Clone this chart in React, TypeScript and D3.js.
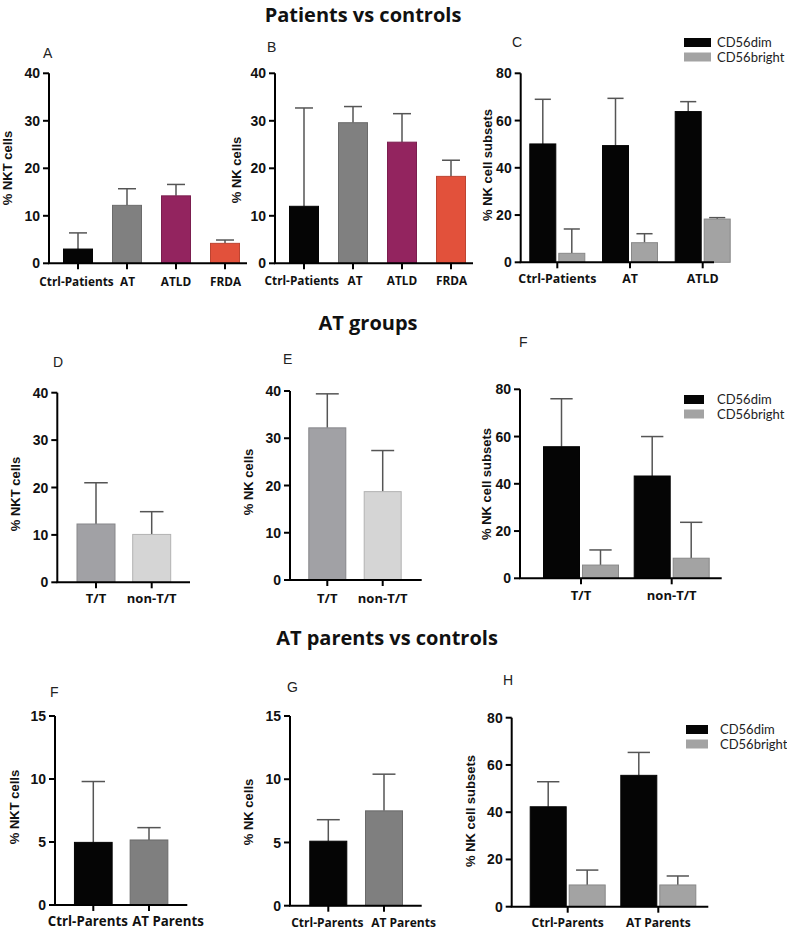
import React, { useEffect } from "react";
import * as d3 from "d3";

// ---------- DATA ----------
const catsPatients = ["Ctrl-Patients", "AT", "ATLD", "FRDA"];
const nktPatients = [3.0, 12.2, 14.2, 4.2];
const nktPatientsErr = [6.4, 15.7, 16.6, 4.9];
const nkPatients = [12.0, 29.6, 25.5, 18.3];
const nkPatientsErr = [32.7, 33.0, 31.5, 21.7];
const colorsPatients = ["#050505", "#808080", "#93245f", "#e2513b"];

const catsSubsetPatients = ["Ctrl-Patients", "AT", "ATLD"];
const dimPatients = [50.1, 49.4, 63.8];
const dimPatientsErr = [69.0, 69.4, 68.0];
const brightPatients = [3.8, 8.3, 18.3];
const brightPatientsErr = [14.1, 12.1, 18.9];

const catsAT = ["T/T", "non-T/T"];
const nktAT = [12.3, 10.1];
const nktATErr = [21.0, 14.9];
const nkAT = [32.2, 18.7];
const nkATErr = [39.4, 27.4];
const colorsAT = ["#a1a1a5", "#d5d5d5"];
const dimAT = [55.7, 43.3];
const dimATErr = [76.0, 60.0];
const brightAT = [5.6, 8.5];
const brightATErr = [12.0, 23.7];

const catsParents = ["Ctrl-Parents", "AT Parents"];
const nktParents = [4.97, 5.16];
const nktParentsErr = [9.8, 6.14];
const nkParents = [5.1, 7.5];
const nkParentsErr = [6.8, 10.4];
const colorsParents = ["#050505", "#7f7f7f"];
const dimParents = [42.3, 55.6];
const dimParentsErr = [52.9, 65.3];
const brightParents = [9.2, 9.2];
const brightParentsErr = [15.5, 13.0];

const subsetNames = ["CD56dim", "CD56bright"];
const subsetColors = ["#050505", "#a3a3a3"];

const titles = ["Patients vs controls", "AT groups", "AT parents vs controls"];

// ---------- STYLE ----------
const AXIS_FONT = "'Liberation Sans', Arial, sans-serif";
const CAT_FONT = "'Open Sans', Lato, sans-serif";
const LEG_FONT = "Lato, 'Open Sans', sans-serif";
const ERR_COLOR = "#555";

function darker(c: string) {
  return d3.color(c)!.darker(0.5).formatHex();
}

type Layout = {
  axisX: number; yTop: number; y0: number; xEnd: number;
  c0: number; c1: number; barW: number; max: number; step: number;
  letter: string; lx: number; ly: number;
  ylabel: string; ylx: number; yly: number; xlabY: number;
  xFont: number; xDx?: number[];
};

function Axes({ L, cats, x }: { L: Layout; cats: string[]; x: d3.ScalePoint<string> }) {
  const y = d3.scaleLinear().domain([0, L.max]).range([L.y0, L.yTop]);
  const ticks = d3.range(0, L.max + 0.001, L.step);
  return (
    <g>
      <line x1={L.axisX} x2={L.axisX} y1={L.yTop} y2={L.y0} stroke="#000" strokeWidth={2} />
      <line x1={L.axisX - 1} x2={L.xEnd} y1={L.y0} y2={L.y0} stroke="#000" strokeWidth={2} />
      {ticks.map((t) => (
        <g key={t}>
          <line x1={L.axisX - 6} x2={L.axisX} y1={y(t)} y2={y(t)} stroke="#000" strokeWidth={2} />
          <text x={L.axisX - 9} y={y(t)} dy="0.36em" textAnchor="end" fontFamily={AXIS_FONT}
            fontWeight="bold" fontSize={14} fill="#111">{t}</text>
        </g>
      ))}
      {cats.map((c, i) => (
        <g key={c}>
          <line x1={x(c)} x2={x(c)} y1={L.y0} y2={L.y0 + 6} stroke="#000" strokeWidth={2} />
          <text x={x(c)! + (L.xDx ? L.xDx[i] : 0)} y={L.xlabY} textAnchor="middle" fontFamily={CAT_FONT}
            fontWeight="bold" fontSize={L.xFont} fill="#111">{c}</text>
        </g>
      ))}
      <text x={L.lx} y={L.ly} fontFamily={AXIS_FONT} fontSize={14} fill="#222">{L.letter}</text>
      <text transform={`translate(${L.ylx},${L.yly}) rotate(-90)`} dy="0.35em" textAnchor="middle"
        fontFamily={AXIS_FONT} fontWeight="bold" fontSize={13} fill="#111">{L.ylabel}</text>
    </g>
  );
}

function ErrBar({ cx, y1, y2, w }: { cx: number; y1: number; y2: number; w: number }) {
  return (
    <g stroke={ERR_COLOR} strokeWidth={1.5}>
      <line x1={cx} x2={cx} y1={y1} y2={y2} />
      <line x1={cx - w / 2} x2={cx + w / 2} y1={y2} y2={y2} />
    </g>
  );
}

function SimplePanel({ L, cats, vals, errs, colors }:
  { L: Layout; cats: string[]; vals: number[]; errs: number[]; colors: string[] }) {
  const x = d3.scalePoint<string>().domain(cats).range([L.c0, L.c1]);
  const y = d3.scaleLinear().domain([0, L.max]).range([L.y0, L.yTop]);
  return (
    <g>
      {cats.map((c, i) => {
        const cx = x(c)!;
        return (
          <g key={c}>
            <ErrBar cx={cx} y1={y(vals[i])} y2={y(errs[i])} w={L.barW * 0.62} />
            <rect x={cx - L.barW / 2} y={y(vals[i])} width={L.barW} height={L.y0 - y(vals[i])}
              fill={colors[i]} stroke={darker(colors[i])} strokeWidth={1} />
          </g>
        );
      })}
      <Axes L={L} cats={cats} x={x} />
    </g>
  );
}

function GroupPanel({ L, cats, dim, dimErr, bright, brightErr, legend }:
  { L: Layout; cats: string[]; dim: number[]; dimErr: number[]; bright: number[]; brightErr: number[];
    legend: { x: number; y: number; rw: number; tx: number } }) {
  const x = d3.scalePoint<string>().domain(cats).range([L.c0, L.c1]);
  const y = d3.scaleLinear().domain([0, L.max]).range([L.y0, L.yTop]);
  const gap = 3;
  const sub = d3.scaleBand<string>().domain(subsetNames)
    .range([-(L.barW + gap / 2), L.barW + gap / 2]).paddingInner(gap / (L.barW + gap));
  const series = [
    { v: dim, e: dimErr },
    { v: bright, e: brightErr },
  ];
  return (
    <g>
      {cats.map((c, i) => (
        <g key={c}>
          {subsetNames.map((s, j) => {
            const bx = x(c)! + sub(s)!;
            const cx = bx + sub.bandwidth() / 2;
            const v = series[j].v[i];
            return (
              <g key={s}>
                <ErrBar cx={cx} y1={y(v)} y2={y(series[j].e[i])} w={sub.bandwidth() * 0.62} />
                <rect x={bx} y={y(v)} width={sub.bandwidth()} height={L.y0 - y(v)}
                  fill={subsetColors[j]} stroke={darker(subsetColors[j])} strokeWidth={1} />
              </g>
            );
          })}
        </g>
      ))}
      <Axes L={L} cats={cats} x={x} />
      {subsetNames.map((s, j) => (
        <g key={s}>
          <rect x={legend.x} y={legend.y + j * 14.5} width={legend.rw} height={9} fill={subsetColors[j]} />
          <text x={legend.tx} y={legend.y + j * 14.5 + 9} fontFamily={LEG_FONT} fontSize={13}
            fill="#222">{s}</text>
        </g>
      ))}
    </g>
  );
}

const LA: Layout = { axisX: 49, yTop: 73.3, y0: 263.3, xEnd: 247, c0: 78, c1: 225, barW: 29, max: 40, step: 10,
  letter: "A", lx: 43, ly: 58, ylabel: "% NKT cells", ylx: 7, yly: 168, xlabY: 286, xFont: 11.8,
  xDx: [-1.5, 0.5, 0, 0.5] };
const LB: Layout = { axisX: 275, yTop: 73.3, y0: 263.3, xEnd: 473, c0: 304, c1: 451, barW: 29, max: 40, step: 10,
  letter: "B", lx: 267, ly: 52, ylabel: "% NK cells", ylx: 236, yly: 170, xlabY: 285, xFont: 11.8,
  xDx: [-2.3, 2, 0, 0.5] };
const LC: Layout = { axisX: 520.7, yTop: 73.3, y0: 262.3, xEnd: 714, c0: 557.3, c1: 702.7, barW: 26, max: 80, step: 20,
  letter: "C", lx: 512, ly: 47, ylabel: "% NK cell subsets", ylx: 487, yly: 165, xlabY: 283, xFont: 12.4 };
const LD: Layout = { axisX: 57.3, yTop: 392.7, y0: 582.3, xEnd: 190, c0: 96, c1: 151.7, barW: 38, max: 40, step: 10,
  letter: "D", lx: 53, ly: 367, ylabel: "% NKT cells", ylx: 15, yly: 494, xlabY: 603, xFont: 13 };
const LE: Layout = { axisX: 290, yTop: 391, y0: 580, xEnd: 421.7, c0: 327.3, c1: 382.7, barW: 37, max: 40, step: 10,
  letter: "E", lx: 283, ly: 364, ylabel: "% NK cells", ylx: 248, yly: 482, xlabY: 603, xFont: 13 };
const LF: Layout = { axisX: 520, yTop: 389.3, y0: 578.3, xEnd: 721.7, c0: 581, c1: 671.7, barW: 36, max: 80, step: 20,
  letter: "F", lx: 519, ly: 347, ylabel: "% NK cell subsets", ylx: 486, yly: 484, xlabY: 600, xFont: 13 };
const LFb: Layout = { axisX: 55, yTop: 716, y0: 905, xEnd: 187.3, c0: 93.3, c1: 149, barW: 37.7, max: 15, step: 5,
  letter: "F", lx: 50, ly: 697, ylabel: "% NKT cells", ylx: 14.5, yly: 807, xlabY: 926, xFont: 13.3,
  xDx: [-5.5, 19] };
const LG: Layout = { axisX: 290, yTop: 716, y0: 905.7, xEnd: 421.7, c0: 328.3, c1: 384, barW: 37, max: 15, step: 5,
  letter: "G", lx: 287, ly: 692, ylabel: "% NK cells", ylx: 248, yly: 812, xlabY: 926.5, xFont: 12,
  xDx: [-1, 19.5] };
const LH: Layout = { axisX: 511.7, yTop: 717.7, y0: 906.7, xEnd: 708.3, c0: 567.7, c1: 658.3, barW: 36, max: 80, step: 20,
  letter: "H", lx: 503, ly: 685, ylabel: "% NK cell subsets", ylx: 470, yly: 811, xlabY: 926.5, xFont: 12 };

export default function App() {
  useEffect(() => {
    document.body.style.margin = "0";
  }, []);
  return (
    <svg width={787} height={931} style={{ display: "block", position: "absolute", left: 0, top: 0, background: "#fff" }}>
      <rect width={787} height={931} fill="#fff" />
      <text x={363} y={21.5} textAnchor="middle" fontFamily={CAT_FONT} fontWeight="bold" fontSize={20} fill="#111">{titles[0]}</text>
      <text x={368} y={330} textAnchor="middle" fontFamily={CAT_FONT} fontWeight="bold" fontSize={20} fill="#111">{titles[1]}</text>
      <text x={387} y={645} textAnchor="middle" fontFamily={CAT_FONT} fontWeight="bold" fontSize={20} fill="#111">{titles[2]}</text>

      <SimplePanel L={LA} cats={catsPatients} vals={nktPatients} errs={nktPatientsErr} colors={colorsPatients} />
      <SimplePanel L={LB} cats={catsPatients} vals={nkPatients} errs={nkPatientsErr} colors={colorsPatients} />
      <GroupPanel L={LC} cats={catsSubsetPatients} dim={dimPatients} dimErr={dimPatientsErr}
        bright={brightPatients} brightErr={brightPatientsErr} legend={{ x: 684, y: 38, rw: 27, tx: 717 }} />

      <SimplePanel L={LD} cats={catsAT} vals={nktAT} errs={nktATErr} colors={colorsAT} />
      <SimplePanel L={LE} cats={catsAT} vals={nkAT} errs={nkATErr} colors={colorsAT} />
      <GroupPanel L={LF} cats={catsAT} dim={dimAT} dimErr={dimATErr}
        bright={brightAT} brightErr={brightATErr} legend={{ x: 684, y: 395, rw: 20, tx: 717 }} />

      <SimplePanel L={LFb} cats={catsParents} vals={nktParents} errs={nktParentsErr} colors={colorsParents} />
      <SimplePanel L={LG} cats={catsParents} vals={nkParents} errs={nkParentsErr} colors={colorsParents} />
      <GroupPanel L={LH} cats={catsParents} dim={dimParents} dimErr={dimParentsErr}
        bright={brightParents} brightErr={brightParentsErr} legend={{ x: 686, y: 725, rw: 22, tx: 720 }} />
    </svg>
  );
}
